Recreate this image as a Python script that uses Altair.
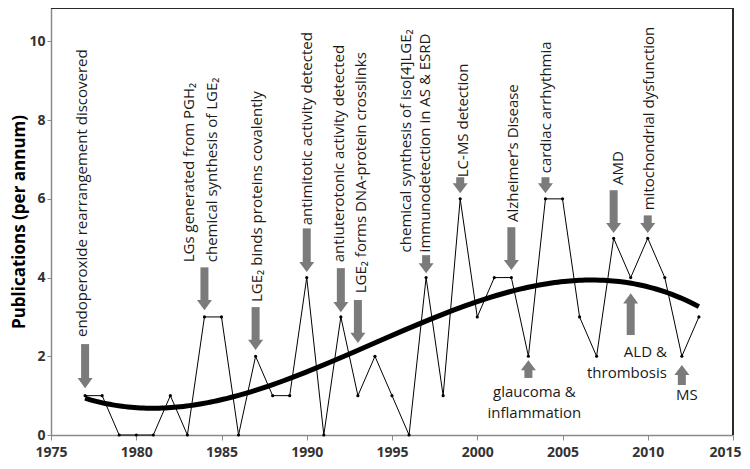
import altair as alt
import pandas as pd

# ---------------- data ----------------
years = list(range(1977, 2014))
pubs = [1, 1, 0, 0, 0, 1, 0, 3, 3, 0, 2, 1, 1, 4, 0, 3, 1, 2, 1, 0,
        4, 1, 6, 3, 4, 4, 2, 6, 6, 3, 2, 5, 4, 5, 4, 2, 3]

# downward arrows (year, top of shaft, tip)
down_years = [1977, 1984, 1987, 1990, 1992, 1993, 1997, 1999, 2002, 2004, 2008, 2010]
down_top = [2.31, 4.26, 3.25, 5.25, 4.24, 3.43, 4.57, 6.55, 5.28, 6.55, 6.22, 5.58]
down_tip = [1.19, 3.17, 2.16, 4.14, 3.12, 2.34, 4.11, 6.14, 4.19, 6.14, 5.13, 5.13]

# upward arrows (year, tip, base of shaft)
up_years = [2003, 2009, 2012]
up_tip = [1.90, 3.60, 1.78]
up_base = [1.45, 2.54, 1.27]

# vertical (rotated) annotation lines
vlabels = ["endoperoxide rearrangement discovered",
           "LGs generated from PGH₂",
           "chemical synthesis of LGE₂",
           "LGE₂ binds proteins covalently",
           "antimitotic activity detected",
           "antiuterotonic activity detected",
           "LGE₂ forms DNA-protein crosslinks",
           "chemical synthesis of iso[4]LGE₂",
           "immunodetection in AS & ESRD",
           "LC-MS detection",
           "Alzheimer’s Disease",
           "cardiac arrhythmia",
           "AMD",
           "mitochondrial dysfunction"]
vlabel_x = [1976.8, 1983.1, 1984.45, 1987.1, 1990.04, 1991.9, 1993.2,
            1995.82, 1996.94, 1999.16, 2002.1, 2004.06, 2008.27, 2010.1]
vlabel_y = [2.49, 4.39, 4.39, 3.38, 5.33, 4.39, 3.6,
            4.64, 4.64, 6.55, 5.41, 6.65, 6.35, 5.71]

# horizontal annotation lines
hlabels = ["glaucoma &", "inflammation", "ALD &", "thrombosis", "MS"]
hlabel_x = [2003.35, 2003.35, 2011.12, 2011.12, 2012.3]
hlabel_y = [1.09, 0.56, 2.11, 1.57, 1.02]
hlabel_align = ["center", "center", "right", "right", "center"]

x_ticks = [1975, 1980, 1985, 1990, 1995, 2000, 2005, 2010, 2015]
y_ticks = [0, 2, 4, 6, 8, 10]

# ---------------- frames ----------------
df = pd.DataFrame({"x": years, "y": pubs})
down_df = pd.DataFrame({"x": down_years, "y": down_top, "y2": down_tip})
up_df = pd.DataFrame({"x": up_years, "y": up_base, "y2": up_tip})
vl_df = pd.DataFrame({"x": vlabel_x, "y": vlabel_y, "t": vlabels})
hl_df = pd.DataFrame({"x": hlabel_x, "y": hlabel_y, "t": hlabels, "a": hlabel_align})

W, H = 682, 427
FONT = "Open Sans"
ARROW = "#7b7b7b"
TXT = "#1a1a1a"

xs = alt.Scale(domain=[1975, 2015], nice=False, zero=False)
ys = alt.Scale(domain=[0, 10.85], nice=False)

X = alt.X("x:Q", scale=xs, axis=alt.Axis(
    values=x_ticks, format="d", title=None, grid=False,
    domainColor="#8a8a8a", domainWidth=1.5, tickColor="#8a8a8a", tickSize=5,
    labelFont=FONT, labelFontSize=14, labelFontWeight="bold", labelColor="#333333",
    labelPadding=5, labelFlush=False,
    labelOffset={"condition": {"test": "datum.value == 2015", "value": -8}, "value": 0}))
Y = alt.Y("y:Q", scale=ys, axis=alt.Axis(
    values=y_ticks, title="Publications (per annum)", grid=False,
    domainColor="#8a8a8a", domainWidth=1.5, tickColor="#8a8a8a", tickSize=4,
    labelFont=FONT, labelFontSize=14, labelFontWeight="bold", labelColor="#333333",
    labelPadding=2, titleFont=FONT, titleFontSize=17, titleFontWeight="bold",
    titleColor="#000000", titlePadding=0))

base = alt.Chart(df)

data_line = base.mark_line(color="black", strokeWidth=1).encode(x=X, y=Y)
data_pts = base.mark_point(filled=True, color="black", size=10, opacity=1).encode(x="x:Q", y="y:Q")

trend = base.transform_regression(
    "x", "y", method="poly", order=3, extent=[1977, 2013]
).mark_line(color="black", strokeWidth=5).encode(x="x:Q", y="y:Q")

down_shaft = alt.Chart(down_df).mark_rule(
    color=ARROW, strokeWidth=8, strokeCap="butt", y2Offset=-9
).encode(x="x:Q", y="y:Q", y2="y2:Q")
down_head = alt.Chart(down_df).mark_point(
    shape="M -1 -1.35 L 1 -1.35 L 0 0 Z", size=225, filled=True, color=ARROW, opacity=1
).encode(x="x:Q", y="y2:Q")

up_shaft = alt.Chart(up_df).mark_rule(
    color=ARROW, strokeWidth=8, strokeCap="butt", y2Offset=9
).encode(x="x:Q", y="y:Q", y2="y2:Q")
up_head = alt.Chart(up_df).mark_point(
    shape="M -1 1.35 L 1 1.35 L 0 0 Z", size=225, filled=True, color=ARROW, opacity=1
).encode(x="x:Q", y="y2:Q")

vtext = alt.Chart(vl_df).mark_text(
    angle=270, align="left", baseline="middle", font=FONT, fontSize=15, color=TXT
).encode(x="x:Q", y="y:Q", text="t:N")

htext_c = alt.Chart(hl_df).transform_filter("datum.a == 'center'").mark_text(
    align="center", baseline="middle", font=FONT, fontSize=15, color=TXT
).encode(x="x:Q", y="y:Q", text="t:N")
htext_r = alt.Chart(hl_df).transform_filter("datum.a == 'right'").mark_text(
    align="right", baseline="middle", font=FONT, fontSize=15, color=TXT
).encode(x="x:Q", y="y:Q", text="t:N")

frame_top = alt.Chart(df).mark_rule(color="#2b2b2b", strokeWidth=2).encode(
    x=alt.value(0), x2=alt.value(W), y=alt.value(0))
frame_right = alt.Chart(df).mark_rule(color="#2b2b2b", strokeWidth=2).encode(
    x=alt.value(W), y=alt.value(0), y2=alt.value(H))

chart = alt.layer(
    data_line, data_pts, trend, down_shaft, down_head, up_shaft, up_head,
    vtext, htext_c, htext_r, frame_top, frame_right
).properties(
    width=W, height=H,
    autosize=alt.AutoSizeParams(type="none"),
    padding={"left": 43, "top": 0, "right": 9, "bottom": 26},
    background="white"
).configure_view(stroke=None)

chart.save("out.html", embed_options={"renderer": "svg", "actions": False})
